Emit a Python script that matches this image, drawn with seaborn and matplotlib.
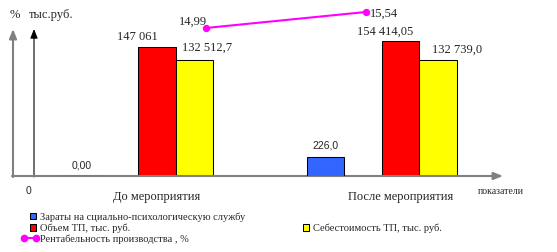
import matplotlib
matplotlib.use("Agg")
import matplotlib.pyplot as plt
import seaborn as sns
import pandas as pd
from matplotlib.patches import Patch
from matplotlib.lines import Line2D

# ---- data ----
categories = ["До мероприятия", "После мероприятия"]
series_names = ["Зараты на сциально-психологическую службу",
                "Объем ТП, тыс. руб.",
                "Себестоимость ТП, тыс. руб.",
                "Рентабельность производства , %"]
social_costs = [0.00, 226.0]
tp_volume = [147061.0, 154414.05]
tp_cost = [132512.7, 132739.0]
profitability = [14.99, 15.54]
social_labels = ["0,00", "226,0"]
volume_labels = ["147 061", "154 414,05"]
cost_labels = ["132 512,7", "132 739,0"]
profit_labels = ["14,99", "15,54"]

sns.set_style("white")
plt.rcParams["font.family"] = ["Liberation Serif", "DejaVu Serif"]

W, H = 557, 252
fig = plt.figure(figsize=(W / 100, H / 100), dpi=100)


def fx(px):
    return px / W


def fy(py):
    return 1 - py / H


ax_left, ax_right, ax_top, ax_bottom = 13, 502, 5, 176
ax = fig.add_axes([fx(ax_left), fy(ax_bottom), (ax_right - ax_left) / W, (ax_bottom - ax_top) / H])
ax_soc = ax.twinx()
ax_pct = ax.twinx()

spacing = 243.5          # px between categories
c0 = 138.25              # px position of first category
bw = 37.5 / spacing      # bar width in category units

gap_name = " "
hue_order = [series_names[0], gap_name, series_names[1], series_names[2]]
palette = {series_names[0]: "#3366FF", gap_name: "white",
           series_names[1]: "#FF0000", series_names[2]: "#FFFF00"}

df_main = pd.DataFrame({"cat": categories * 2,
                        "val": tp_volume + tp_cost,
                        "series": [series_names[1]] * 2 + [series_names[2]] * 2})
df_soc = pd.DataFrame({"cat": categories, "val": social_costs,
                       "series": [series_names[0]] * 2})

common = dict(x="cat", y="val", hue="series", hue_order=hue_order, palette=palette,
              order=categories, width=4 * bw, dodge=True, saturation=1, errorbar=None,
              edgecolor="black", linewidth=0.75, legend=False)
sns.barplot(data=df_main, ax=ax, **common)
sns.barplot(data=df_soc, ax=ax_soc, **common)

# profitability line (drawn with Excel-like offsets from the categories)
line_offsets = [0.278, -0.065]
line_x = [i + o for i, o in enumerate(line_offsets)]
sns.lineplot(x=line_x, y=profitability, ax=ax_pct, color="#FF00FF", lw=1.5,
             marker="o", ms=4.5, mec="#FF00FF", legend=False)

# scales
ax.set_xlim((ax_left - c0) / spacing, (ax_right - c0) / spacing)
ax.set_ylim(0, 195000)
ax_soc.set_ylim(0, 2035)
ax_pct.set_ylim(9.9025, 15.78)

for a in (ax, ax_soc, ax_pct):
    for s in a.spines.values():
        s.set_visible(False)
    a.set_yticks([])
    a.set_ylabel("")
    a.set_xlabel("")
    a.patch.set_visible(False)

ax.set_xticks([i + 0.5 * bw for i in range(len(categories))])
ax.set_xticklabels(categories, fontsize=9)
ax.tick_params(axis="x", length=0, pad=11)

# value labels
off_red = [(-20, 10), (-15.5, 9)]
off_yel = [(12.5, 12), (19, 10)]
off_blue = [(0, 11), (0, 12)]
off_pct = [(-12.5, 6), (18.5, -2)]
for i in range(len(categories)):
    ax.annotate(volume_labels[i], xy=(i + 0.5 * bw, tp_volume[i]), xytext=off_red[i],
                textcoords="offset pixels", ha="center", va="center", fontsize=9)
    ax.annotate(cost_labels[i], xy=(i + 1.5 * bw, tp_cost[i]), xytext=off_yel[i],
                textcoords="offset pixels", ha="center", va="center", fontsize=9)
    ax_soc.annotate(social_labels[i], xy=(i - 1.5 * bw, social_costs[i]), xytext=off_blue[i],
                    textcoords="offset pixels", ha="center", va="center", fontsize=7.5,
                    family="Liberation Sans")
    ax_pct.annotate(profit_labels[i], xy=(line_x[i], profitability[i]), xytext=off_pct[i],
                    textcoords="offset pixels", ha="center", va="center", fontsize=9)

# axis arrows
def arrow(x0, y0, x1, y1, color, lw):
    ax.annotate("", xy=(x1, H - y1), xytext=(x0, H - y0), xycoords="figure pixels",
                textcoords="figure pixels", annotation_clip=False,
                arrowprops=dict(arrowstyle="-|>,head_length=0.55,head_width=0.22",
                                color=color, lw=lw, shrinkA=0, shrinkB=0, mutation_scale=10))

arrow(13, 177, 13, 29, "#808080", 1.5)
arrow(34, 177, 34, 29, "black", 0.8)
arrow(12, 176, 503, 176, "#808080", 1.5)

fig.text(fx(15), fy(15), "%", ha="center", va="center", fontsize=9)
fig.text(fx(51), fy(15), "тыс.руб.", ha="center", va="center", fontsize=9)
fig.text(fx(28), fy(191), "0", ha="center", va="center", fontsize=7.5, family="Liberation Sans")
fig.text(fx(501), fy(192), "показатели", ha="center", va="center", fontsize=7)

# legend entries
def sq_legend(color, label, x, y):
    fig.legend(handles=[Patch(facecolor=color, edgecolor="black", lw=0.75)], labels=[label],
               loc="center left", bbox_to_anchor=(fx(x), fy(y)), frameon=False, fontsize=7.5,
               handlelength=0.6, handleheight=0.6, handletextpad=0.35,
               borderpad=0, borderaxespad=0)

sq_legend("#3366FF", series_names[0], 30, 217)
sq_legend("#FF0000", series_names[1], 30, 228.5)
sq_legend("#FFFF00", series_names[2], 303, 228.5)
fig.legend(handles=[Line2D([], [], color="#FF00FF", lw=1.5, marker="o", ms=4.5)],
           labels=[series_names[3]], loc="center left", bbox_to_anchor=(fx(21), fy(239)),
           frameon=False, fontsize=7.5, numpoints=2, handlelength=1.7, handletextpad=0.1,
           borderpad=0, borderaxespad=0)

fig.savefig("out.png", dpi=100)
